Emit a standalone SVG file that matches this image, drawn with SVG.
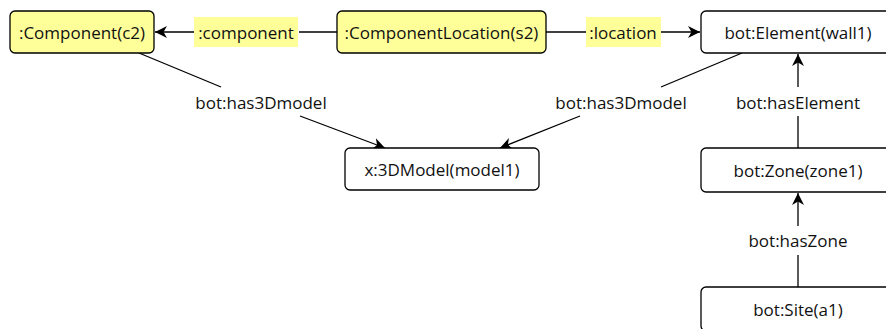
<svg xmlns="http://www.w3.org/2000/svg" width="886" height="329" viewBox="0 0 886 329">
<style>
.n{stroke:#000;stroke-width:1.3;}
.y{fill:#ffff99;}
.w{fill:#fff;}
text{font-family:"Open Sans","Noto Sans",sans-serif;font-size:17px;fill:#111;text-anchor:middle;dominant-baseline:central;}
.e{stroke:#000;stroke-width:1.3;fill:none;}
.lb{fill:#ffff99;}
</style>
<defs>
<marker id="a" viewBox="0 0 12 12" refX="12" refY="6" markerWidth="12" markerHeight="12" markerUnits="userSpaceOnUse" orient="auto">
<path d="M0,0 L12,6 L0,12 L3.5,6 z" fill="#000"/>
</marker>
</defs>
<rect width="886" height="329" fill="#fff"/>
<g id="edges">
<line class="e" x1="337" y1="32" x2="299" y2="32"/>
<line class="e" x1="194" y1="32" x2="155" y2="32" marker-end="url(#a)"/>
<rect class="lb" x="194" y="17" width="104" height="30"/>
<text x="246" y="32">:component</text>
<line class="e" x1="546" y1="32" x2="586" y2="32"/>
<line class="e" x1="661" y1="32" x2="700" y2="32" marker-end="url(#a)"/>
<rect class="lb" x="586" y="17" width="75" height="30"/>
<text x="623" y="32">:location</text>
<line class="e" x1="139" y1="53" x2="221" y2="87"/>
<line class="e" x1="300" y1="116" x2="385" y2="148" marker-end="url(#a)"/>
<text x="261" y="102">bot:has3Dmodel</text>
<line class="e" x1="742" y1="53" x2="661" y2="87"/>
<line class="e" x1="580" y1="116" x2="500" y2="148" marker-end="url(#a)"/>
<text x="621" y="102">bot:has3Dmodel</text>
<line class="e" x1="798" y1="148" x2="798" y2="116"/>
<line class="e" x1="798" y1="87" x2="798" y2="54" marker-end="url(#a)"/>
<text x="798" y="102">bot:hasElement</text>
<line class="e" x1="798" y1="287" x2="798" y2="255"/>
<line class="e" x1="798" y1="226" x2="798" y2="193" marker-end="url(#a)"/>
<text x="798" y="240">bot:hasZone</text>
</g>
<g id="c2"><rect class="n y" x="10" y="11" width="144" height="42" rx="5"/><text x="82" y="32">:Component(c2)</text></g>
<g id="s2"><rect class="n y" x="337" y="11" width="209" height="42" rx="5"/><text x="441.5" y="32">:ComponentLocation(s2)</text></g>
<g id="wall1"><rect class="n w" x="701" y="11" width="194" height="42" rx="5"/><text x="798" y="32">bot:Element(wall1)</text></g>
<g id="model1"><rect class="n w" x="345" y="148" width="194" height="42" rx="5"/><text x="442" y="169">x:3DModel(model1)</text></g>
<g id="zone1"><rect class="n w" x="701" y="148" width="194" height="44" rx="5"/><text x="798" y="170">bot:Zone(zone1)</text></g>
<g id="a1"><rect class="n w" x="701" y="287" width="194" height="44" rx="5"/><text x="798" y="309">bot:Site(a1)</text></g>
</svg>
